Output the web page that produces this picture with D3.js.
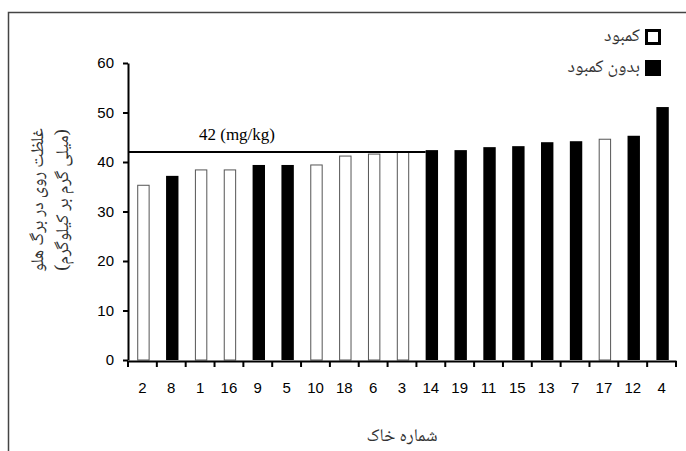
<!DOCTYPE html>
<html><head><meta charset="utf-8">
<script src="https://cdn.jsdelivr.net/npm/d3@7"></script>
<style>
body{margin:0;background:#fff;}
svg{display:block;}
</style></head>
<body>
<svg id="chart" width="686" height="451"></svg>
<script>
const categories = ["2","8","1","16","9","5","10","18","6","3","14","19","11","15","13","7","17","12","4"];
const values = [35.4,37.2,38.5,38.5,39.4,39.4,39.5,41.3,41.7,42.1,42.4,42.4,43.0,43.2,44.0,44.2,44.7,45.3,51.1];
// 1 = کمبود (deficient, white), 0 = بدون کمبود (black)
const deficient = [1,0,1,1,0,0,1,1,1,1,0,0,0,0,0,0,1,0,0];
const yTicks = [0,10,20,30,40,50,60];
const threshold = 42;
const thresholdLabel = "42 (mg/kg)";
const legendLabels = ["کمبود","بدون کمبود"];
const yTitle = ["غلظت روی در برگ هلو","(میلی گرم بر کیلوگرم)"];
const xTitle = "شماره خاک";

const svg = d3.select("#chart");
const mLeft = 128, mRight = 676, mTop = 63, mBottom = 360;
const faFont = "'Noto Naskh Arabic','Noto Sans Arabic','DejaVu Sans',sans-serif";
const faColor = "#333";

// frame
svg.append("path").attr("d","M8.5,451 V12.5 H686").attr("fill","none").attr("stroke","#444").attr("stroke-width",1.5);

const x = d3.scaleBand().domain(categories).range([mLeft, mRight]).padding(0);
const xb = d3.scaleBand().domain(categories).range([mLeft+1, mRight+1]).paddingInner(0.57).paddingOuter(0.285);
const y = d3.scaleLinear().domain([0,60]).range([mBottom, mTop]);

// bars
svg.append("g").selectAll("rect").data(categories).join("rect")
  .attr("x", (d,i) => xb(d) + (deficient[i] ? 0.5 : 0))
  .attr("width", (d,i) => deficient[i] ? xb.bandwidth()-1 : xb.bandwidth())
  .attr("y", (d,i) => y(values[i]) + (deficient[i] ? 0.5 : 0))
  .attr("height", (d,i) => mBottom - y(values[i]) - (deficient[i] ? 0.5 : 0))
  .attr("fill", (d,i) => deficient[i] ? "#fff" : "#000")
  .attr("stroke", (d,i) => deficient[i] ? "#555" : "none")
  .attr("stroke-width", 1);

// threshold line
svg.append("line")
  .attr("x1", mLeft).attr("x2", xb("14"))
  .attr("y1", y(threshold)).attr("y2", y(threshold))
  .attr("stroke","#000").attr("stroke-width",2);
svg.append("text").attr("x", 237).attr("y", 140)
  .attr("text-anchor","middle").attr("font-family","'Liberation Serif', 'Times New Roman', serif")
  .attr("font-size",17).text(thresholdLabel);

// y axis
const yAxis = svg.append("g").attr("transform",`translate(${mLeft},0)`)
  .call(d3.axisLeft(y).tickValues(yTicks).tickSize(5).tickSizeOuter(0).tickPadding(9));
yAxis.select(".domain").attr("stroke","#000").attr("stroke-width",2);
yAxis.selectAll(".tick line").attr("stroke","#000").attr("stroke-width",2);
yAxis.selectAll("text").attr("font-family","'Liberation Sans', Arial, sans-serif").attr("font-size",15).attr("fill","#000");

// x axis
const xAxis = svg.append("g").attr("transform",`translate(0,${mBottom+1})`)
  .call(d3.axisBottom(x).tickSize(0).tickSizeOuter(0).tickPadding(21));
xAxis.select(".domain").attr("stroke","#000").attr("stroke-width",2);
xAxis.selectAll("text").attr("font-family","'Liberation Sans', Arial, sans-serif").attr("font-size",15).attr("fill","#000");
const bounds = categories.map(c => x(c)).concat([x.range()[1]]);
xAxis.selectAll(".bt").data(bounds).join("line").attr("class","bt")
  .attr("x1", d=>d).attr("x2", d=>d).attr("y1",0).attr("y2",6)
  .attr("stroke","#000").attr("stroke-width",2);

// titles
svg.append("text").attr("x", 402).attr("y", 441).attr("text-anchor","middle")
  .attr("font-family",faFont).attr("font-size",18).attr("direction","rtl").attr("fill",faColor).text(xTitle);
const yt = svg.append("g").attr("transform","translate(49,200) rotate(-90)");
yTitle.forEach((t,i) => {
  yt.append("text").attr("x",0).attr("y", -6 + i*25).attr("text-anchor","middle")
    .attr("font-family",faFont).attr("font-size",18).attr("direction","rtl").attr("fill",faColor).text(t);
});

// legend
const leg = svg.append("g");
[0,1].forEach(i => {
  const ly = 29 + i*31;
  leg.append("rect").attr("x", 646.5).attr("y", ly + 1.5).attr("width", 13).attr("height", 13)
    .attr("fill", i===0 ? "#fff" : "#000").attr("stroke","#000").attr("stroke-width", 3);
  leg.append("text").attr("x", 640).attr("y", ly + 12).attr("text-anchor","end")
    .attr("font-family",faFont).attr("font-size",18).attr("fill",faColor).text(legendLabels[i]);
});
</script>
</body></html>
